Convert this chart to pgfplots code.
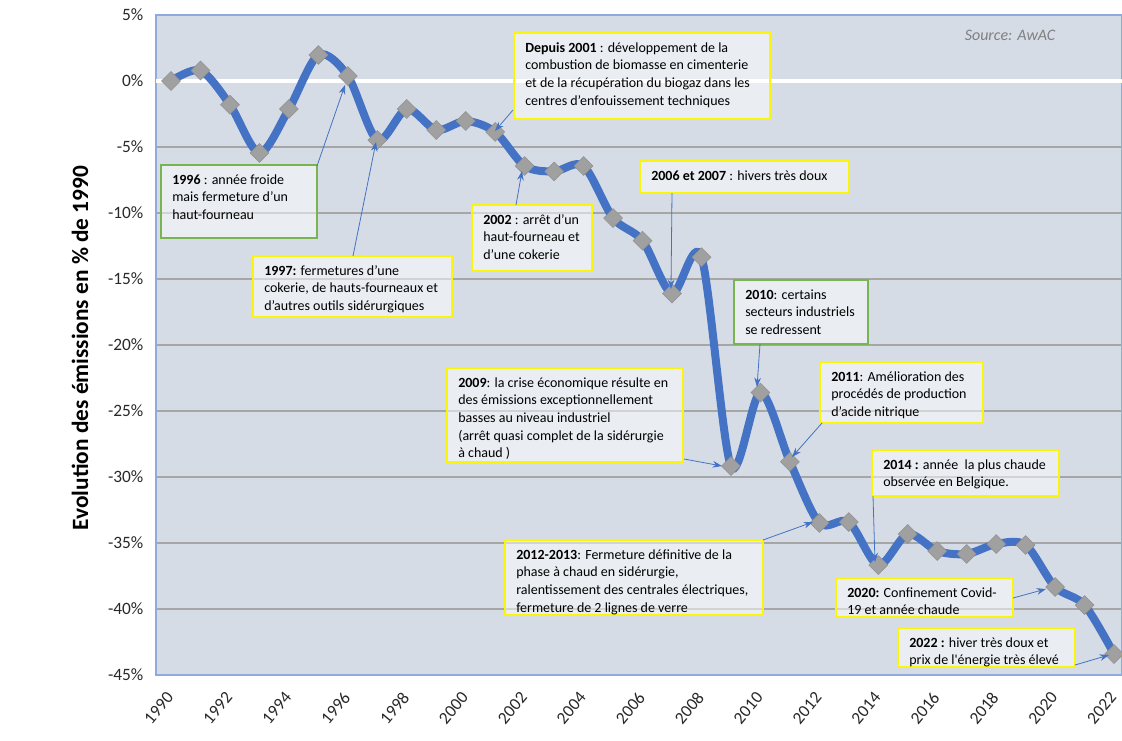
\documentclass[border=0pt]{standalone}
\usepackage{fontspec}
\setmainfont{Carlito}
\usepackage{pgfplots}
\pgfplotsset{compat=1.18}
\usetikzlibrary{arrows.meta}
\definecolor{bgc}{RGB}{214,220,229}
\definecolor{linec}{RGB}{68,114,196}
\definecolor{markc}{RGB}{160,160,160}
\definecolor{gridc}{RGB}{166,166,166}
\definecolor{boxy}{RGB}{250,245,10}
\definecolor{boxg}{RGB}{120,180,80}
\definecolor{axc}{RGB}{143,170,220}
\definecolor{tickc}{RGB}{40,40,40}
\newcommand{\annfont}{\fontsize{10.5}{13.3}\selectfont}
\newcommand{\tickfont}{\fontsize{13}{15}\selectfont}
\newcommand{\abox}[6]{%
  \draw[#1, line width=1.1pt, fill=white, fill opacity=0.5] (#2,#3) rectangle (#4,#5);
  \node[anchor=base west, inner sep=0pt, font=\annfont] at (#2+11,#3+19) {\begin{tabular}[t]{@{}l@{}}#6\end{tabular}};}
\pgfplotstableread{
year val
1990 0.0
1991 0.8
1992 -1.8
1993 -5.45
1994 -2.12
1995 1.97
1996 0.38
1997 -4.47
1998 -2.12
1999 -3.71
2000 -3.03
2001 -3.86
2002 -6.44
2003 -6.85
2004 -6.44
2005 -10.38
2006 -12.1
2007 -16.1
2008 -13.35
2009 -29.17
2010 -23.6
2011 -28.85
2012 -33.48
2013 -33.41
2014 -36.67
2015 -34.32
2016 -35.61
2017 -35.83
2018 -35.08
2019 -35.15
2020 -38.33
2021 -39.70
2022 -43.41
}\emis
\begin{document}
\begin{tikzpicture}[x=0.75pt,y=-0.75pt]
\begin{axis}[
  at={(117pt,-506.25pt)}, anchor=south west,
  scale only axis, width=724.5pt, height=495pt,
  xmin=1989.49, xmax=2022.27, ymin=-45, ymax=5,
  axis background/.style={fill=bgc},
  axis line style={axc, line width=0.8pt},
  xtick={1990,1992,...,2022},
  xticklabels={1990,1992,1994,1996,1998,2000,2002,2004,2006,2008,2010,2012,2014,2016,2018,2020,2022},
  ytick={-45,-40,-35,-30,-25,-20,-15,-10,-5,0,5},
  yticklabels={-45\%,-40\%,-35\%,-30\%,-25\%,-20\%,-15\%,-10\%,-5\%,0\%,5\%},
  ymajorgrids, grid style={gridc, line width=0.8pt},
  major tick length=0pt,
  xticklabel style={font=\tickfont, text=tickc, xshift=1.5pt, yshift=-12pt, rotate=50, anchor=east},
  yticklabel style={font=\tickfont, text=tickc, xshift=-6pt},
  clip=false,
]
\addplot[white, line width=2.4pt, forget plot] coordinates {(1989.49,0) (2022.27,0)};
\addplot[linec, line width=6pt, smooth, mark=square*, mark size=5pt,
  mark options={fill=markc, draw=markc!90!black, line width=0.4pt, rotate=45}] table[x=year, y=val] {\emis};
\end{axis}
% y label
\node[rotate=90, anchor=base, font=\bfseries\fontsize{17.5}{20}\selectfont] at (88,348) {Evolution des émissions en \% de 1990};
% source
\node[anchor=base, font=\itshape\fontsize{12}{14}\selectfont, text=gray] at (1010,40) {Source: AwAC};
% boxes
\abox{boxy}{514}{33}{770}{119}{\textbf{Depuis 2001} : développement de la\\combustion de biomasse en cimenterie\\et de la récupération du biogaz dans les\\centres d’enfouissement techniques}
\abox{boxg}{161}{165}{317}{238}{\textbf{1996} : année froide\\mais fermeture d’un\\haut-fourneau}
\abox{boxy}{253}{256}{452}{317}{\textbf{1997:} fermetures d’une\\cokerie, de hauts-fourneaux et\\d’autres outils sidérurgiques}
\abox{boxy}{472}{205}{592}{271}{\textbf{2002} : arrêt d’un\\haut-fourneau et\\d’une cokerie}
\abox{boxy}{640}{161}{849}{193}{\textbf{2006 et 2007} : hivers très doux}
\abox{boxg}{734}{280}{868}{344}{\textbf{2010}: certains\\secteurs industriels\\se redressent}
\abox{boxy}{820}{362}{983}{423}{\textbf{2011}: Amélioration des\\procédés de production\\d’acide nitrique}
\abox{boxy}{447}{368}{683}{462}{\textbf{2009}: la crise économique résulte en\\des émissions exceptionnellement\\basses au niveau industriel\\(arrêt quasi complet de la sidérurgie\\à chaud )}
\abox{boxy}{872}{450}{1059}{496}{\textbf{2014 :} année \ la plus chaude\\observée en Belgique.}
\abox{boxy}{505}{540}{763}{615}{\textbf{2012-2013}: Fermeture définitive de la\\phase à chaud en sidérurgie,\\ralentissement des centrales électriques,\\fermeture de 2 lignes de verre}
\abox{boxy}{836}{578}{1013}{617}{\textbf{2020:} Confinement Covid-\\19 et année chaude}
\abox{boxy}{898}{628}{1075}{667}{\textbf{2022 :} hiver très doux et\\prix de l\textquotesingle énergie très élevé}
% arrows
\begin{scope}[linec, line width=0.6pt, -{Stealth[length=7pt,width=5pt]}]
\draw (317,166) -- (345,85);
\draw (353,256) -- (376,142);
\draw (513,110) -- (495,131);
\draw (516,205) -- (522,171);
\draw (672,193) -- (671,289);
\draw (760,344) -- (757,387);
\draw (822,423) -- (792,457);
\draw (684,459) -- (722,466);
\draw (873,496) -- (875,562);
\draw (763,540) -- (813,522);
\draw (1013,598) -- (1046,589);
\draw (1075,665) -- (1109,655);
\end{scope}
\pgfresetboundingbox
\path (0,0) rectangle (1122,740);
\end{tikzpicture}
\end{document}
